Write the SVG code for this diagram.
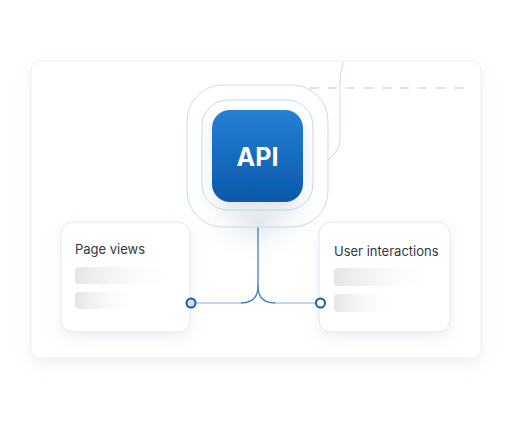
<svg xmlns="http://www.w3.org/2000/svg" width="512" height="421" viewBox="0 0 512 421">
<style>
.ring{fill:none;stroke:#c9daec;stroke-width:1}
.card{fill:#ffffff;stroke:#e3e8ee;stroke-width:1}
.lbl{font-family:Inter,"Noto Sans",sans-serif;font-size:13px;fill:#33373d}
.conn{fill:none;stroke:#3f7fbe;stroke-width:1.3}
.conn2{fill:none;stroke:#8fb0d4;stroke-width:1}
</style>
<defs>
<linearGradient id="api" x1="0" y1="0" x2="0" y2="1">
<stop offset="0" stop-color="#2680d6"/>
<stop offset="1" stop-color="#0a58aa"/>
</linearGradient>
<linearGradient id="bar" x1="0" y1="0" x2="1" y2="0">
<stop offset="0" stop-color="#e4e5e7"/>
<stop offset="1" stop-color="#ffffff" stop-opacity="0"/>
</linearGradient>
<radialGradient id="glow" cx="0.5" cy="0.5" r="0.5">
<stop offset="0" stop-color="#dfe6ee" stop-opacity="0.9"/>
<stop offset="1" stop-color="#ffffff" stop-opacity="0"/>
</radialGradient>
<filter id="sh" x="-20%" y="-20%" width="140%" height="150%">
<feDropShadow dx="0" dy="6" stdDeviation="8" flood-color="#9aaabf" flood-opacity="0.18"/>
</filter>
<filter id="sh2" x="-30%" y="-30%" width="160%" height="170%">
<feDropShadow dx="0" dy="8" stdDeviation="9" flood-color="#8fa3bd" flood-opacity="0.22"/>
</filter>
</defs>
<rect width="512" height="421" fill="#ffffff"/>
<g id="panel">
<rect x="31" y="61" width="450" height="297" rx="9" fill="#ffffff" stroke="#eceff3" filter="url(#sh)"/>
<line x1="310" y1="88" x2="472" y2="88" stroke="#cfd9e4" stroke-width="1.3" stroke-dasharray="9 9"/>
</g>
<ellipse cx="258" cy="222" rx="70" ry="45" fill="url(#glow)"/>
<g id="connectors">
<path class="ring" d="M344,62 Q340,70 340,85 L340,140 Q340,150 328,160"/>
<path class="conn" d="M258,227 L258,286 Q258,303 241,303"/>
<path class="conn" d="M258,286 Q258,303 275,303"/>
<path class="conn2" d="M241,303 L196,303"/>
<path class="conn2" d="M275,303 L316,303"/>
</g>
<g id="api-node">
<rect class="ring" x="187" y="85" width="141" height="142" rx="36"/>
<rect class="ring" x="202" y="100" width="111" height="110" rx="26"/>
<rect x="212" y="110" width="91" height="92" rx="18" fill="url(#api)" filter="url(#sh2)"/>
<text x="257.5" y="166" text-anchor="middle" font-family="Inter,'Noto Sans',sans-serif" font-weight="700" font-size="25" fill="#ffffff">API</text>
</g>
<g id="page-views">
<rect class="card" x="61" y="222" width="129" height="110" rx="12" filter="url(#sh)"/>
<text class="lbl" x="75" y="254">Page views</text>
<rect x="75" y="267" width="105" height="17" rx="4" fill="url(#bar)"/>
<rect x="75" y="292" width="65" height="17" rx="4" fill="url(#bar)"/>
</g>
<g id="user-interactions">
<rect class="card" x="319" y="222" width="131" height="110" rx="12" filter="url(#sh)"/>
<text class="lbl" x="334" y="256">User interactions</text>
<rect x="334" y="268" width="105" height="18" rx="4" fill="url(#bar)"/>
<rect x="334" y="294" width="65" height="18" rx="4" fill="url(#bar)"/>
</g>
<g id="ports">
<circle cx="191" cy="303" r="4.5" fill="#cfe0f1" stroke="#1d5e9e" stroke-width="2"/>
<circle cx="320.5" cy="303" r="4.5" fill="#ffffff" stroke="#1d5e9e" stroke-width="2"/>
</g>
</svg>
